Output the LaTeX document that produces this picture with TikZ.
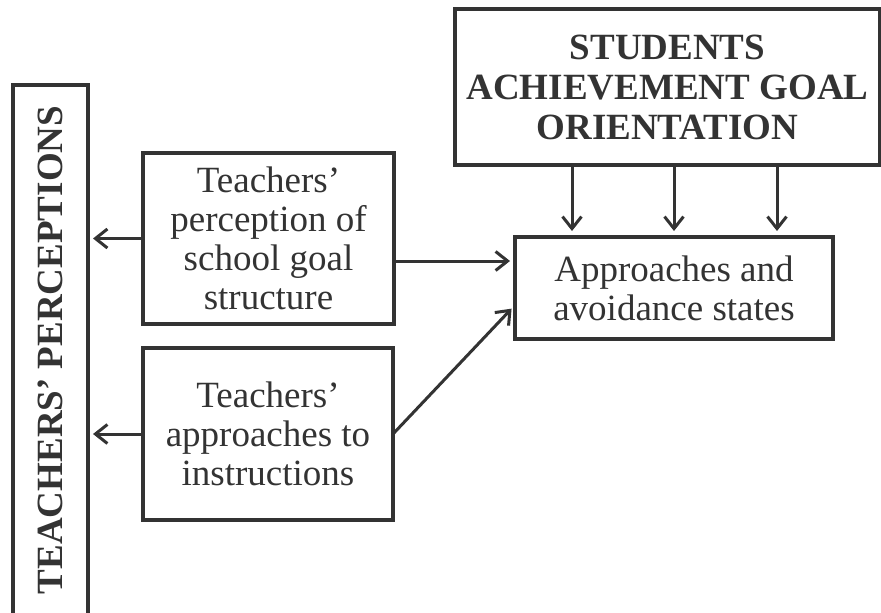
\documentclass[tikz,border=0pt]{standalone}
\usepackage{fontspec}
\setmainfont{Liberation Serif}
\usetikzlibrary{arrows.meta}
\definecolor{ink}{HTML}{333333}
\begin{document}
\begin{tikzpicture}[x=1pt,y=-1pt]
\tikzstyle{every node}+=[inner sep=0pt,outer sep=0pt,text=ink,align=center,font=\fontsize{37}{39}\selectfont]
\tikzstyle{box}=[draw=ink,line width=3.5pt]
\tikzstyle{bold}=[font=\fontsize{37}{40}\selectfont\bfseries]
\tikzstyle{arr}=[draw=ink,line width=3pt,-{Straight Barb[length=12pt,width=19pt]},shorten >=5pt]
\useasboundingbox (0,0) rectangle (881,613);
\clip (0,0) rectangle (881,613);
\node[box,bold,rotate=90,minimum width=530pt,minimum height=75pt] (bar) at (50.5,350) {TEACHERS’ PERCEPTIONS};
\node[box,minimum width=251pt,minimum height=171pt] (school) at (268.5,238.5) {Teachers’\\perception of\\school goal\\structure};
\node[box,minimum width=250pt,minimum height=172pt] (instr) at (268,434) {Teachers’\\approaches to\\instructions};
\node[box,minimum width=318pt,minimum height=102pt] (state) at (674,288) {Approaches and\\avoidance states};
\node[box,bold,minimum width=425pt,minimum height=156pt] (goal) at (667.5,87) {STUDENTS\\ACHIEVEMENT GOAL\\ORIENTATION};
\draw[arr] (school.west) -- (school.west -| bar.south);
\draw[arr] (instr.west) -- (instr.west -| bar.south);
\coordinate (s1) at ([yshift=-22.5pt]school.east);
\draw[arr] (s1) -- (s1 -| state.west);
\draw[arr] (instr.east) -- ([yshift=-17pt]state.west);
\foreach \dx [count=\i] in {-102,0,103}{
  \coordinate (d\i) at ([xshift=\dx pt]state.north);
  \draw[arr,shorten >=6pt] (d\i |- goal.south) -- (d\i);
}
\end{tikzpicture}
\end{document}
